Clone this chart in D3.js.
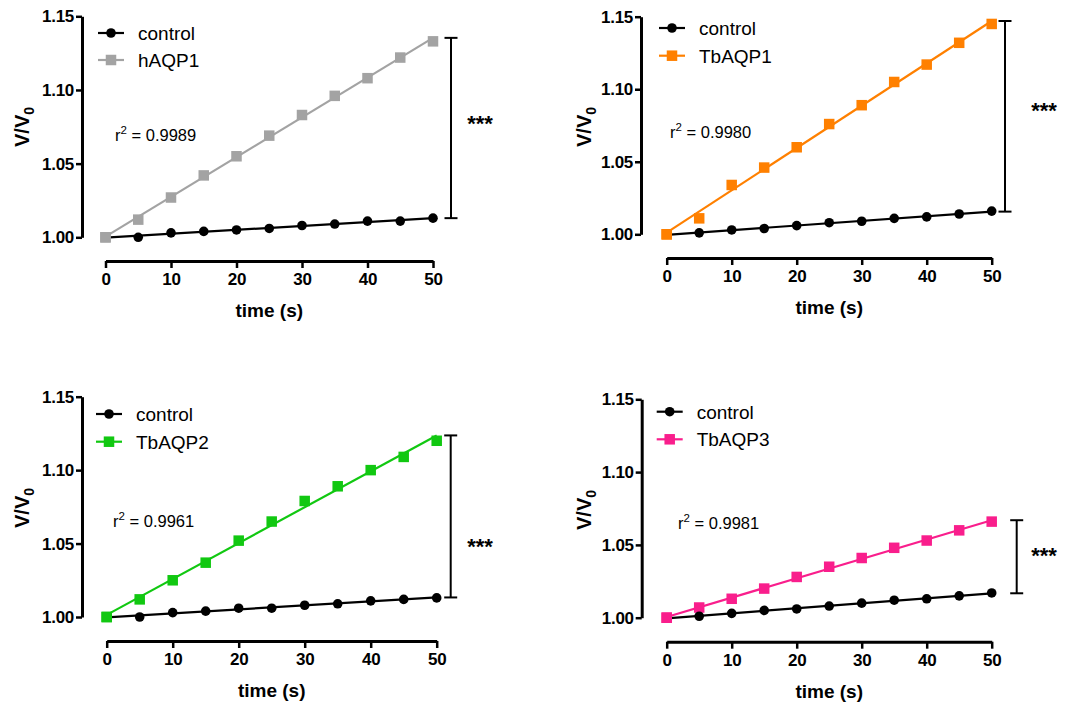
<!DOCTYPE html>
<html>
<head>
<meta charset="utf-8">
<script src="https://cdn.jsdelivr.net/npm/d3@7/dist/d3.min.js"></script>
<style>
  html, body { margin: 0; padding: 0; background: #fff; }
  svg { display: block; font-family: "Liberation Sans", Arial, sans-serif; }
</style>
</head>
<body>
<svg id="chart" width="1084" height="702"></svg>
<script>
// ---------- data ----------
const times = [0, 5, 10, 15, 20, 25, 30, 35, 40, 45, 50];
const yTicks = [1.00, 1.05, 1.10, 1.15];
const xTicks = [0, 10, 20, 30, 40, 50];

const control1 = [1.000, 1.000, 1.003, 1.004, 1.005, 1.006, 1.008, 1.009, 1.011, 1.011, 1.013];
const hAQP1    = [1.000, 1.012, 1.027, 1.042, 1.055, 1.069, 1.083, 1.096, 1.108, 1.122, 1.133];

const control2 = [1.000, 1.001, 1.003, 1.004, 1.006, 1.008, 1.009, 1.011, 1.012, 1.014, 1.016];
const TbAQP1   = [1.000, 1.011, 1.034, 1.046, 1.060, 1.076, 1.089, 1.105, 1.117, 1.132, 1.145];

const control3 = [1.000, 1.000, 1.003, 1.004, 1.006, 1.006, 1.008, 1.009, 1.011, 1.012, 1.013];
const TbAQP2   = [1.000, 1.012, 1.025, 1.037, 1.052, 1.065, 1.079, 1.089, 1.100, 1.109, 1.120];

const control4 = [1.000, 1.001, 1.003, 1.005, 1.006, 1.008, 1.010, 1.012, 1.013, 1.015, 1.017];
const TbAQP3   = [1.000, 1.007, 1.013, 1.020, 1.028, 1.035, 1.041, 1.048, 1.053, 1.060, 1.066];

const seriesNames = ["hAQP1", "TbAQP1", "TbAQP2", "TbAQP3"];
const seriesColors = ["#a3a3a3", "#ff8000", "#11c811", "#f91e8c"];
const r2Labels = ["0.9989", "0.9980", "0.9961", "0.9981"];
const sigLabels = ["***", "***", "***", "***"];

// ---------- layout (positions only) ----------
const panels = [
  { ctrl: control1, test: hAQP1, axX: 82, yTop: 16.3, yBot: 237.3, xAxY: 261, x0: 105.5, x1: 433,
    legX: 98, legY: [33, 60], r2: [115, 141], brX: 451, star: [480, 131], ylab: [22, 127] },
  { ctrl: control2, test: TbAQP1, axX: 641, yTop: 16.7, yBot: 234.3, xAxY: 258, x0: 666.7, x1: 991.7,
    legX: 659, legY: [28, 55.7], r2: [670, 138], brX: 1005, star: [1044, 118], ylab: [584, 127] },
  { ctrl: control3, test: TbAQP2, axX: 82, yTop: 396.7, yBot: 617, xAxY: 641, x0: 106.7, x1: 436.7,
    legX: 96, legY: [414, 441.7], r2: [113, 527], brX: 450.7, star: [480, 554], ylab: [22, 508] },
  { ctrl: control4, test: TbAQP3, axX: 641.7, yTop: 399.3, yBot: 617.7, xAxY: 641.7, x0: 666.7, x1: 991.7,
    legX: 656.7, legY: [411.7, 439.3], r2: [678, 529], brX: 1016.7, star: [1044, 563], ylab: [584, 510] }
];

function linfit(xs, ys) {
  const n = xs.length;
  const mx = d3.mean(xs), my = d3.mean(ys);
  let sxy = 0, sxx = 0;
  for (let i = 0; i < n; i++) { sxy += (xs[i] - mx) * (ys[i] - my); sxx += (xs[i] - mx) ** 2; }
  const b = sxy / sxx, a = my - b * mx;
  return x => a + b * x;
}

const svg = d3.select("#chart");
const FONT = "'Liberation Sans', Arial, sans-serif";

panels.forEach((p, i) => {
  const color = seriesColors[i];
  const x = d3.scaleLinear().domain([0, 50]).range([p.x0, p.x1]);
  const y = d3.scaleLinear().domain([1.00, 1.15]).range([p.yBot, p.yTop]);
  const g = svg.append("g");

  // y axis
  const yAxis = d3.axisLeft(y).tickValues(yTicks).tickFormat(d3.format(".2f")).tickSize(6).tickSizeOuter(0).tickPadding(2);
  const gy = g.append("g").attr("transform", `translate(${p.axX},0)`).call(yAxis);
  gy.select(".domain").attr("stroke", "#000").attr("stroke-width", 3);
  gy.selectAll(".tick line").attr("stroke", "#000").attr("stroke-width", 2.5);
  gy.selectAll(".tick text").attr("font-size", 17).attr("font-weight", "bold").attr("fill", "#000")
    .attr("font-family", FONT).attr("letter-spacing", -0.3);

  // x axis
  const xAxis = d3.axisBottom(x).tickValues(xTicks).tickSize(7).tickSizeOuter(0).tickPadding(5);
  const gx = g.append("g").attr("transform", `translate(0,${p.xAxY})`).call(xAxis);
  gx.select(".domain").attr("stroke", "#000").attr("stroke-width", 3);
  gx.selectAll(".tick line").attr("stroke", "#000").attr("stroke-width", 2.5);
  gx.selectAll(".tick text").attr("font-size", 17).attr("font-weight", "bold").attr("fill", "#000")
    .attr("font-family", FONT).attr("letter-spacing", -0.3);

  // axis titles
  g.append("text").attr("x", (p.x0 + p.x1) / 2).attr("y", p.xAxY + 56)
    .attr("text-anchor", "middle").attr("font-size", 19).attr("font-weight", "bold").text("time (s)");
  const yl = g.append("text").attr("transform", `translate(${p.ylab[0] + 7},${p.ylab[1]}) rotate(-90)`)
    .attr("text-anchor", "middle").attr("font-size", 20).attr("font-weight", "bold");
  yl.append("tspan").text("V/V");
  yl.append("tspan").attr("font-size", 14).attr("dy", 5).text("0");

  // fit lines
  const fc = linfit(times, p.ctrl), ft = linfit(times, p.test);
  const line = d3.line().x(d => x(d[0])).y(d => y(d[1]));
  g.append("path").attr("d", line([[0, ft(0)], [50, ft(50)]])).attr("stroke", color).attr("stroke-width", 2.2).attr("fill", "none");
  g.append("path").attr("d", line([[0, fc(0)], [50, fc(50)]])).attr("stroke", "#000").attr("stroke-width", 2.2).attr("fill", "none");

  // markers
  const ss = 10.5;
  g.selectAll(".tsq").data(times.map((t, k) => [t, p.test[k]])).join("rect")
    .attr("x", d => x(d[0]) - ss / 2).attr("y", d => y(d[1]) - ss / 2)
    .attr("width", ss).attr("height", ss).attr("fill", color);
  g.selectAll(".cdot").data(times.map((t, k) => [t, p.ctrl[k]]).slice(1)).join("circle")
    .attr("cx", d => x(d[0])).attr("cy", d => y(d[1])).attr("r", 4.8).attr("fill", "#000");
  g.append("rect").attr("x", x(0) - ss / 2).attr("y", y(p.test[0]) - ss / 2)
    .attr("width", ss).attr("height", ss).attr("fill", color);

  // legend
  const lg = g.append("g");
  [["control", "#000", "circle"], [seriesNames[i], color, "square"]].forEach((e, k) => {
    const ly = p.legY[k];
    lg.append("line").attr("x1", p.legX).attr("x2", p.legX + 26).attr("y1", ly).attr("y2", ly)
      .attr("stroke", e[1]).attr("stroke-width", 2.2);
    if (e[2] === "circle") {
      lg.append("circle").attr("cx", p.legX + 13).attr("cy", ly).attr("r", 4.8).attr("fill", e[1]);
    } else {
      lg.append("rect").attr("x", p.legX + 13 - ss / 2).attr("y", ly - ss / 2).attr("width", ss).attr("height", ss).attr("fill", e[1]);
    }
    lg.append("text").attr("x", p.legX + 40).attr("y", ly + 7).attr("font-size", 19).attr("fill", "#000").text(e[0]);
  });

  // r^2
  const rt = g.append("text").attr("x", p.r2[0]).attr("y", p.r2[1]).attr("font-size", 16.5).attr("fill", "#000");
  rt.append("tspan").text("r");
  rt.append("tspan").attr("font-size", 11.5).attr("dy", -7).text("2");
  rt.append("tspan").attr("dy", 7).text(" = " + r2Labels[i]);

  // significance bracket
  const yb1 = y(ft(50)), yb2 = y(fc(50));
  g.append("line").attr("x1", p.brX).attr("x2", p.brX).attr("y1", yb1).attr("y2", yb2).attr("stroke", "#000").attr("stroke-width", 2);
  [yb1, yb2].forEach(v => g.append("line").attr("x1", p.brX - 6.5).attr("x2", p.brX + 6.5).attr("y1", v).attr("y2", v)
    .attr("stroke", "#000").attr("stroke-width", 2));
  g.append("text").attr("x", p.star[0]).attr("y", p.star[1]).attr("text-anchor", "middle")
    .attr("font-size", 22).attr("font-weight", "bold").attr("fill", "#000").text(sigLabels[i]);
});
</script>
</body>
</html>
